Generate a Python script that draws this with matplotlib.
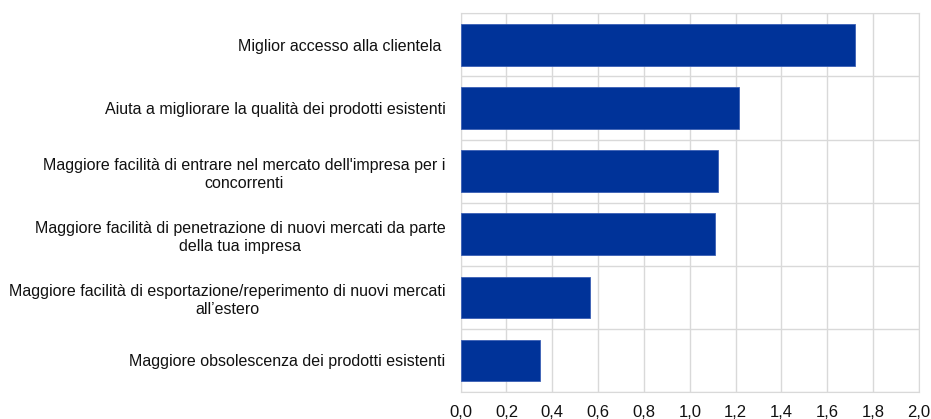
import numpy as np
import matplotlib.pyplot as plt
from matplotlib.ticker import FuncFormatter, MultipleLocator

plt.rcParams['font.family'] = ['Liberation Sans', 'DejaVu Sans']

categories = [
    "Miglior accesso alla clientela ",
    "Aiuta a migliorare la qualità dei prodotti esistenti",
    "Maggiore facilità di entrare nel mercato dell'impresa per i\nconcorrenti",
    "Maggiore facilità di penetrazione di nuovi mercati da parte\ndella tua impresa",
    "Maggiore facilità di esportazione/reperimento di nuovi mercati\nall\u2019estero",
    "Maggiore obsolescenza dei prodotti esistenti",
]
values = [1.72, 1.215, 1.123, 1.108, 0.563, 0.347]

fig = plt.figure(figsize=(9.31, 4.19), dpi=100)
ax = fig.add_axes([0.4948, 0.0644, 0.4923, 0.9038])

y = np.arange(len(categories))
ax.barh(y, values, height=0.66, color='#003399', edgecolor='#3a5fb5', linewidth=0.6, zorder=3)

ax.set_xlim(0, 2.0)
ax.set_ylim(len(categories) - 0.5, -0.5)
ax.set_yticks(y)
ax.set_yticklabels(categories, fontsize=11.5, ha='right', multialignment='center', linespacing=1.3)
ax.xaxis.set_major_locator(MultipleLocator(0.2))
ax.xaxis.set_major_formatter(FuncFormatter(lambda v, p: f"{v:.1f}".replace('.', ',')))
ax.tick_params(axis='x', labelsize=12, length=0, pad=9, colors='#111111')
ax.tick_params(axis='y', length=0, pad=11, colors='#111111')

# separator lines between categories
ax.set_yticks(np.arange(-0.5, len(categories), 1), minor=True)
ax.grid(axis='x', which='major', color='#d9d9d9', lw=1, zorder=0)
ax.grid(axis='y', which='minor', color='#d9d9d9', lw=1, zorder=0)
ax.tick_params(axis='y', which='minor', length=0)
for s in ax.spines.values():
    s.set_color('#d9d9d9')

fig.savefig('out.png', dpi=100)
